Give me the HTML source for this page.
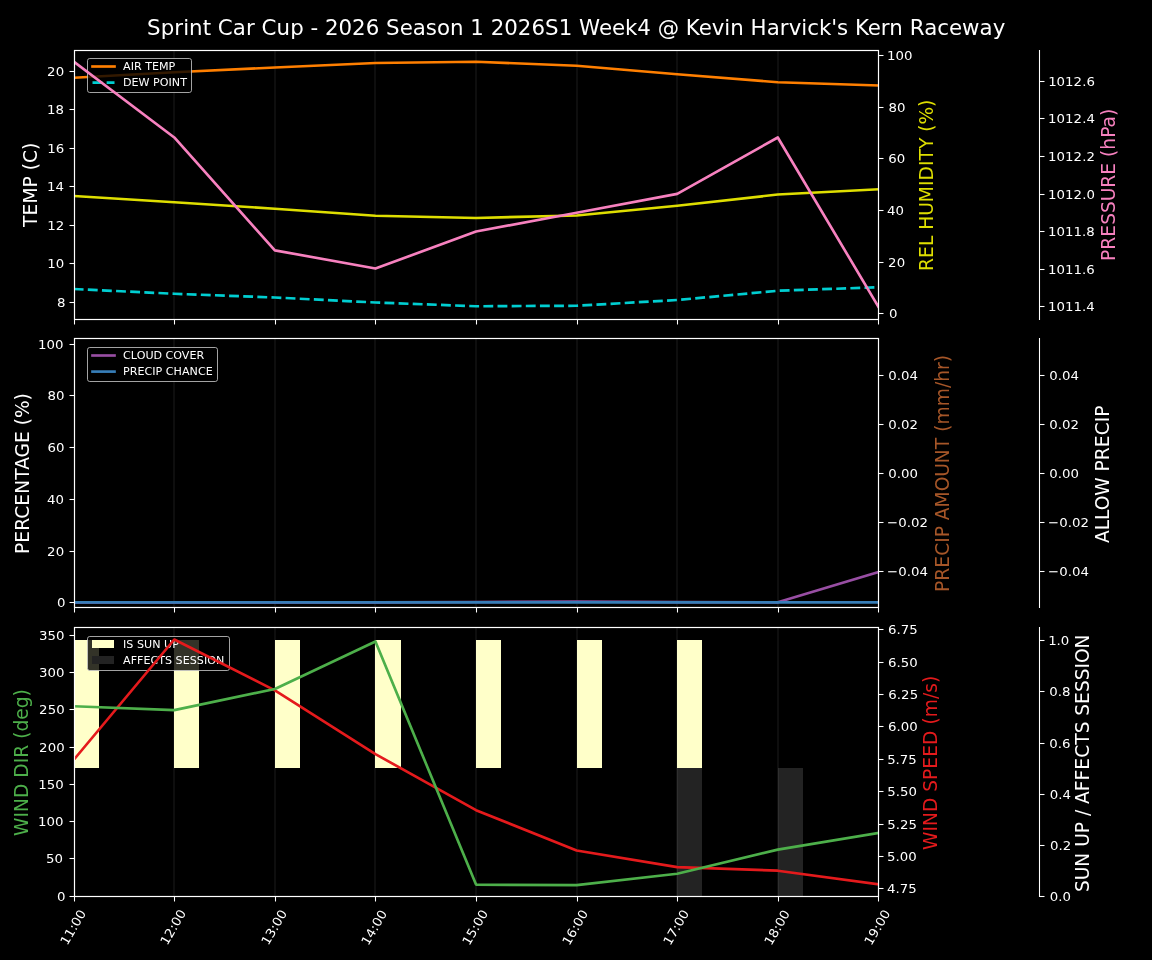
<!DOCTYPE html>
<html lang="en"><head><meta charset="utf-8"><title>Sprint Car Cup weather forecast</title>
<style>html,body{margin:0;padding:0;background:#000;overflow:hidden}svg{display:block}text{white-space:pre}</style>
</head><body>
<svg width="1152" height="960" viewBox="0 0 1152 960" font-family="'DejaVu Sans', 'Liberation Sans', sans-serif">
<rect width="1152" height="960" fill="#000"/>
<clipPath id="c0"><rect x="74.5" y="50.5" width="804.0" height="269.0"/></clipPath>
<clipPath id="c1"><rect x="74.5" y="338.5" width="804.0" height="269.0"/></clipPath>
<clipPath id="c2"><rect x="74.5" y="627.5" width="804.0" height="269.0"/></clipPath>
<text x="147.12 160.74 174.37 183.24 189.12 202.74 211.12 217.87 232.87 245.99 254.87 261.62 276.62 290.24 303.87 310.62 318.24 324.99 338.62 352.12 365.74 379.37 386.12 399.74 412.74 425.87 436.99 449.99 463.62 470.37 483.99 490.74 504.37 517.87 531.49 545.12 558.74 572.37 579.12 598.99 611.99 624.99 637.37 650.99 657.74 679.12 685.87 698.74 711.74 724.37 730.24 743.87 750.62 766.74 779.87 788.74 801.37 807.24 818.99 831.37 837.12 848.24 854.99 867.87 880.87 889.37 902.99 909.74 924.24 937.37 949.12 962.12 979.62 992.74" y="35.05" font-size="21.33" fill="#ffffff">Sprint Car Cup - 2026 Season 1 2026S1 Week4 @ Kevin Harvick&#39;s Kern Raceway</text>
<rect x="173" y="50.5" width="2" height="269.0" fill="#fff" fill-opacity="0.055"/>
<rect x="274" y="50.5" width="2" height="269.0" fill="#fff" fill-opacity="0.055"/>
<rect x="374" y="50.5" width="2" height="269.0" fill="#fff" fill-opacity="0.055"/>
<rect x="475" y="50.5" width="2" height="269.0" fill="#fff" fill-opacity="0.055"/>
<rect x="576" y="50.5" width="2" height="269.0" fill="#fff" fill-opacity="0.055"/>
<rect x="676" y="50.5" width="2" height="269.0" fill="#fff" fill-opacity="0.055"/>
<rect x="777" y="50.5" width="2" height="269.0" fill="#fff" fill-opacity="0.055"/>
<polyline points="73.69,77.75 174.28,72.25 274.86,67.5 375.44,63 476.03,61.75 576.62,65.75 677.2,74.25 777.79,82.25 878.37,85.5" fill="none" stroke="#ff7f00" stroke-width="2.67" stroke-linejoin="round" stroke-linecap="square" clip-path="url(#c0)"/>
<polyline points="73.69,289 174.28,293.75 274.86,297.5 375.44,302.5 476.03,306.25 576.62,305.75 677.2,300 777.79,290.75 878.37,287.25" fill="none" stroke="#00ced1" stroke-width="2.67" stroke-linejoin="round" stroke-linecap="butt" clip-path="url(#c0)" stroke-dasharray="9.87 4.27"/>
<rect x="87.5" y="58.5" width="104" height="34" rx="2.2" ry="2.2" fill="#000" fill-opacity="0.8" stroke="#cccccc" stroke-opacity="0.8" stroke-width="1"/>
<line x1="92.5" y1="66.5" x2="114.5" y2="66.5" stroke="#ff7f00" stroke-width="2.67" stroke-linecap="square"/>
<text x="123.06 130.69 133.94 141.69 145.19 151.94 158.94 168.56" y="70.32" font-size="11.11" fill="#ffffff">AIR TEMP</text>
<line x1="92.5" y1="82.6" x2="114.5" y2="82.6" stroke="#00ced1" stroke-width="2.67" stroke-dasharray="9.87 4.27"/>
<text x="123.04 131.54 138.54 149.54 153.04 159.79 168.54 171.79 180.17" y="85.86" font-size="11.11" fill="#ffffff">DEW POINT</text>
<polyline points="73.69,196 174.28,202.25 274.86,208.75 375.44,215.75 476.03,218 576.62,215.5 677.2,205.75 777.79,194.5 878.37,189.25" fill="none" stroke="#dede00" stroke-width="2.67" stroke-linejoin="round" stroke-linecap="square" clip-path="url(#c0)"/>
<polyline points="73.69,61.65 174.28,137.48 274.86,250.34 375.44,268.55 476.03,231.53 576.62,212.72 677.2,193.91 777.79,137.48 878.37,306.76" fill="none" stroke="#f781bf" stroke-width="2.67" stroke-linejoin="round" stroke-linecap="square" clip-path="url(#c0)"/>
<rect x="74.5" y="50.5" width="804.0" height="269.0" fill="none" stroke="#ffffff" stroke-width="1.19"/>
<line x1="1039.5" y1="50" x2="1039.5" y2="320" stroke="#ffffff" stroke-width="1.07"/>
<line x1="74.5" y1="319.5" x2="74.5" y2="324.5" stroke="#ffffff" stroke-width="1.07"/>
<line x1="174.5" y1="319.5" x2="174.5" y2="324.5" stroke="#ffffff" stroke-width="1.07"/>
<line x1="275.5" y1="319.5" x2="275.5" y2="324.5" stroke="#ffffff" stroke-width="1.07"/>
<line x1="375.5" y1="319.5" x2="375.5" y2="324.5" stroke="#ffffff" stroke-width="1.07"/>
<line x1="476.5" y1="319.5" x2="476.5" y2="324.5" stroke="#ffffff" stroke-width="1.07"/>
<line x1="577.5" y1="319.5" x2="577.5" y2="324.5" stroke="#ffffff" stroke-width="1.07"/>
<line x1="677.5" y1="319.5" x2="677.5" y2="324.5" stroke="#ffffff" stroke-width="1.07"/>
<line x1="778.5" y1="319.5" x2="778.5" y2="324.5" stroke="#ffffff" stroke-width="1.07"/>
<line x1="878.5" y1="319.5" x2="878.5" y2="324.5" stroke="#ffffff" stroke-width="1.07"/>
<line x1="69.5" y1="302.5" x2="74.5" y2="302.5" stroke="#ffffff" stroke-width="1.07"/>
<text transform="translate(65.44,307.31) scale(1,0.97)" x="-8.38" font-size="13.33" fill="#ffffff">8</text>
<line x1="69.5" y1="263.5" x2="74.5" y2="263.5" stroke="#ffffff" stroke-width="1.07"/>
<text transform="translate(64.15,268.35) scale(1,0.97)" x="-17 -8.5" font-size="13.33" fill="#ffffff">10</text>
<line x1="69.5" y1="225.5" x2="74.5" y2="225.5" stroke="#ffffff" stroke-width="1.07"/>
<text transform="translate(64.47,230.16) scale(1,0.97)" x="-17.12 -8.62" font-size="13.33" fill="#ffffff">12</text>
<line x1="69.5" y1="186.5" x2="74.5" y2="186.5" stroke="#ffffff" stroke-width="1.07"/>
<text transform="translate(63.81,191.21) scale(1,0.97)" x="-16.88 -8.38" font-size="13.33" fill="#ffffff">14</text>
<line x1="69.5" y1="148.5" x2="74.5" y2="148.5" stroke="#ffffff" stroke-width="1.07"/>
<text transform="translate(64.21,153.4) scale(1,0.97)" x="-17 -8.5" font-size="13.33" fill="#ffffff">16</text>
<line x1="69.5" y1="109.5" x2="74.5" y2="109.5" stroke="#ffffff" stroke-width="1.07"/>
<text transform="translate(63.8,114.28) scale(1,0.97)" x="-16.88 -8.38" font-size="13.33" fill="#ffffff">18</text>
<line x1="69.5" y1="71.5" x2="74.5" y2="71.5" stroke="#ffffff" stroke-width="1.07"/>
<text transform="translate(64.14,76.27) scale(1,0.97)" x="-17.12 -8.5" font-size="13.33" fill="#ffffff">20</text>
<text transform="translate(37.12,184.83) rotate(-90)" x="-42.06 -30.56 -18.69 -2.56 8.69 14.56 21.81 34.81" font-size="18.67" fill="#ffffff">TEMP (C)</text>
<line x1="878.5" y1="313.5" x2="883.5" y2="313.5" stroke="#ffffff" stroke-width="1.07"/>
<text transform="translate(889.05,318.44) scale(1,0.97)" x="0" font-size="13.33" fill="#ffffff">0</text>
<line x1="878.5" y1="262.5" x2="883.5" y2="262.5" stroke="#ffffff" stroke-width="1.07"/>
<text transform="translate(888.1,267.28) scale(1,0.97)" x="0 8.62" font-size="13.33" fill="#ffffff">20</text>
<line x1="878.5" y1="210.5" x2="883.5" y2="210.5" stroke="#ffffff" stroke-width="1.07"/>
<text transform="translate(887.02,214.79) scale(1,0.97)" x="0 8.38" font-size="13.33" fill="#ffffff">40</text>
<line x1="878.5" y1="158.5" x2="883.5" y2="158.5" stroke="#ffffff" stroke-width="1.07"/>
<text transform="translate(888.17,163.48) scale(1,0.97)" x="0 8.5" font-size="13.33" fill="#ffffff">60</text>
<line x1="878.5" y1="107.5" x2="883.5" y2="107.5" stroke="#ffffff" stroke-width="1.07"/>
<text transform="translate(888.57,112.36) scale(1,0.97)" x="0 8.38" font-size="13.33" fill="#ffffff">80</text>
<line x1="878.5" y1="55.5" x2="883.5" y2="55.5" stroke="#ffffff" stroke-width="1.07"/>
<text transform="translate(887.05,60.36) scale(1,0.97)" x="0 8.5 17" font-size="13.33" fill="#ffffff">100</text>
<text transform="translate(933.24,185.29) rotate(-90)" x="-85.62 -72.62 -60.75 -50.38 -44.5 -30.5 -16.88 -0.75 4.75 19.25 24.75 36.25 47.62 53.5 60.75 78.38" font-size="18.67" fill="#dede00">REL HUMIDITY (%)</text>
<line x1="1039.5" y1="306.5" x2="1044.5" y2="306.5" stroke="#ffffff" stroke-width="1.07"/>
<text transform="translate(1048.05,311.17) scale(1,0.97)" x="0 8.5 17 25.5 34 38.25" font-size="13.33" fill="#ffffff">1011.4</text>
<line x1="1039.5" y1="269.5" x2="1044.5" y2="269.5" stroke="#ffffff" stroke-width="1.07"/>
<text transform="translate(1048.1,274.23) scale(1,0.97)" x="0 8.5 17 25.5 34 38.25" font-size="13.33" fill="#ffffff">1011.6</text>
<line x1="1039.5" y1="231.5" x2="1044.5" y2="231.5" stroke="#ffffff" stroke-width="1.07"/>
<text transform="translate(1048.06,236.24) scale(1,0.97)" x="0 8.5 17 25.5 34 38.25" font-size="13.33" fill="#ffffff">1011.8</text>
<line x1="1039.5" y1="194.5" x2="1044.5" y2="194.5" stroke="#ffffff" stroke-width="1.07"/>
<text transform="translate(1048.08,199.14) scale(1,0.97)" x="0 8.5 17 25.5 34.12 38.38" font-size="13.33" fill="#ffffff">1012.0</text>
<line x1="1039.5" y1="156.5" x2="1044.5" y2="156.5" stroke="#ffffff" stroke-width="1.07"/>
<text transform="translate(1048.04,161.11) scale(1,0.97)" x="0 8.5 17 25.5 34.12 38.38" font-size="13.33" fill="#ffffff">1012.2</text>
<line x1="1039.5" y1="118.5" x2="1044.5" y2="118.5" stroke="#ffffff" stroke-width="1.07"/>
<text transform="translate(1048.02,123.21) scale(1,0.97)" x="0 8.5 17 25.5 34.12 38.38" font-size="13.33" fill="#ffffff">1012.4</text>
<line x1="1039.5" y1="81.5" x2="1044.5" y2="81.5" stroke="#ffffff" stroke-width="1.07"/>
<text transform="translate(1048.13,86.21) scale(1,0.97)" x="0 8.5 17 25.5 34.12 38.38" font-size="13.33" fill="#ffffff">1012.6</text>
<text transform="translate(1114.82,184.79) rotate(-90)" x="-76.12 -64.88 -51.88 -40 -28.25 -16.5 -2.88 10.12 22 27.88 35.12 47 57.38 68.88" font-size="18.67" fill="#f781bf">PRESSURE (hPa)</text>
<rect x="173" y="338.5" width="2" height="269.0" fill="#fff" fill-opacity="0.055"/>
<rect x="274" y="338.5" width="2" height="269.0" fill="#fff" fill-opacity="0.055"/>
<rect x="374" y="338.5" width="2" height="269.0" fill="#fff" fill-opacity="0.055"/>
<rect x="475" y="338.5" width="2" height="269.0" fill="#fff" fill-opacity="0.055"/>
<rect x="576" y="338.5" width="2" height="269.0" fill="#fff" fill-opacity="0.055"/>
<rect x="676" y="338.5" width="2" height="269.0" fill="#fff" fill-opacity="0.055"/>
<rect x="777" y="338.5" width="2" height="269.0" fill="#fff" fill-opacity="0.055"/>
<polyline points="73.69,602.29 174.28,602.29 274.86,602.29 375.44,602.29 476.03,602.03 576.62,601.51 677.2,602.16 777.79,602.29 878.37,572.16" fill="none" stroke="#984ea3" stroke-width="2.67" stroke-linejoin="round" stroke-linecap="square" clip-path="url(#c1)"/>
<polyline points="73.69,602.29 174.28,602.29 274.86,602.29 375.44,602.29 476.03,602.29 576.62,602.29 677.2,602.29 777.79,602.29 878.37,602.29" fill="none" stroke="#377eb8" stroke-width="2.67" stroke-linejoin="round" stroke-linecap="square" clip-path="url(#c1)"/>
<rect x="87.5" y="347.5" width="130" height="34" rx="2.2" ry="2.2" fill="#000" fill-opacity="0.8" stroke="#cccccc" stroke-opacity="0.8" stroke-width="1"/>
<line x1="92.5" y1="355.5" x2="114.5" y2="355.5" stroke="#984ea3" stroke-width="2.67" stroke-linecap="square"/>
<text x="123.06 130.81 136.69 145.44 153.56 162.06 165.56 173.31 181.81 189.44 196.44" y="359.32" font-size="11.11" fill="#ffffff">CLOUD COVER</text>
<line x1="92.5" y1="371.6" x2="114.5" y2="371.6" stroke="#377eb8" stroke-width="2.67" stroke-linecap="square"/>
<text x="123.04 129.79 137.54 144.54 152.29 155.54 162.29 165.79 173.54 181.92 189.54 197.92 205.67" y="374.86" font-size="11.11" fill="#ffffff">PRECIP CHANCE</text>
<rect x="74.5" y="338.5" width="804.0" height="269.0" fill="none" stroke="#ffffff" stroke-width="1.19"/>
<line x1="1039.5" y1="338" x2="1039.5" y2="608" stroke="#ffffff" stroke-width="1.07"/>
<line x1="74.5" y1="607.5" x2="74.5" y2="612.5" stroke="#ffffff" stroke-width="1.07"/>
<line x1="174.5" y1="607.5" x2="174.5" y2="612.5" stroke="#ffffff" stroke-width="1.07"/>
<line x1="275.5" y1="607.5" x2="275.5" y2="612.5" stroke="#ffffff" stroke-width="1.07"/>
<line x1="375.5" y1="607.5" x2="375.5" y2="612.5" stroke="#ffffff" stroke-width="1.07"/>
<line x1="476.5" y1="607.5" x2="476.5" y2="612.5" stroke="#ffffff" stroke-width="1.07"/>
<line x1="577.5" y1="607.5" x2="577.5" y2="612.5" stroke="#ffffff" stroke-width="1.07"/>
<line x1="677.5" y1="607.5" x2="677.5" y2="612.5" stroke="#ffffff" stroke-width="1.07"/>
<line x1="778.5" y1="607.5" x2="778.5" y2="612.5" stroke="#ffffff" stroke-width="1.07"/>
<line x1="878.5" y1="607.5" x2="878.5" y2="612.5" stroke="#ffffff" stroke-width="1.07"/>
<line x1="69.5" y1="602.5" x2="74.5" y2="602.5" stroke="#ffffff" stroke-width="1.07"/>
<text transform="translate(65.55,607.44) scale(1,0.97)" x="-8.5" font-size="13.33" fill="#ffffff">0</text>
<line x1="69.5" y1="551.5" x2="74.5" y2="551.5" stroke="#ffffff" stroke-width="1.07"/>
<text transform="translate(64.14,556.27) scale(1,0.97)" x="-17.12 -8.5" font-size="13.33" fill="#ffffff">20</text>
<line x1="69.5" y1="499.5" x2="74.5" y2="499.5" stroke="#ffffff" stroke-width="1.07"/>
<text transform="translate(63.92,503.79) scale(1,0.97)" x="-16.88 -8.5" font-size="13.33" fill="#ffffff">40</text>
<line x1="69.5" y1="447.5" x2="74.5" y2="447.5" stroke="#ffffff" stroke-width="1.07"/>
<text transform="translate(64.42,452.48) scale(1,0.97)" x="-17 -8.5" font-size="13.33" fill="#ffffff">60</text>
<line x1="69.5" y1="395.5" x2="74.5" y2="395.5" stroke="#ffffff" stroke-width="1.07"/>
<text transform="translate(64.47,400.36) scale(1,0.97)" x="-16.88 -8.5" font-size="13.33" fill="#ffffff">80</text>
<line x1="69.5" y1="344.5" x2="74.5" y2="344.5" stroke="#ffffff" stroke-width="1.07"/>
<text transform="translate(63.52,349.36) scale(1,0.97)" x="-25.5 -17 -8.5" font-size="13.33" fill="#ffffff">100</text>
<text transform="translate(29.05,473.6) rotate(-90)" x="-80.38 -69.12 -57.25 -45.12 -32.12 -20.25 -6.25 3.75 16.12 30.5 42.38 48.25 55.5 73.12" font-size="18.67" fill="#ffffff">PERCENTAGE (%)</text>
<line x1="878.5" y1="571.5" x2="883.5" y2="571.5" stroke="#ffffff" stroke-width="1.07"/>
<text transform="translate(886.96,575.84) scale(1,0.97)" x="0 11.25 19.75 24 32.5" font-size="13.33" fill="#ffffff">−0.04</text>
<line x1="878.5" y1="522.5" x2="883.5" y2="522.5" stroke="#ffffff" stroke-width="1.07"/>
<text transform="translate(887.07,526.8) scale(1,0.97)" x="0 11.25 19.75 24 32.5" font-size="13.33" fill="#ffffff">−0.02</text>
<line x1="878.5" y1="473.5" x2="883.5" y2="473.5" stroke="#ffffff" stroke-width="1.07"/>
<text transform="translate(888.15,478.28) scale(1,0.97)" x="0 8.5 12.75 21.25" font-size="13.33" fill="#ffffff">0.00</text>
<line x1="878.5" y1="424.5" x2="883.5" y2="424.5" stroke="#ffffff" stroke-width="1.07"/>
<text transform="translate(888.16,429.16) scale(1,0.97)" x="0 8.5 12.75 21.25" font-size="13.33" fill="#ffffff">0.02</text>
<line x1="878.5" y1="375.5" x2="883.5" y2="375.5" stroke="#ffffff" stroke-width="1.07"/>
<text transform="translate(888.15,380.2) scale(1,0.97)" x="0 8.5 12.75 21.25" font-size="13.33" fill="#ffffff">0.04</text>
<text transform="translate(949.08,473.45) rotate(-90)" x="-118.5 -107.25 -94.25 -82.38 -69.38 -63.88 -52.62 -46.75 -34 -17.88 -3.38 10.25 24.25 35.75 41.62 48.88 67.12 85.38 91.62 103.5 111.25" font-size="18.67" fill="#a65628">PRECIP AMOUNT (mm/hr)</text>
<line x1="1039.5" y1="571.5" x2="1044.5" y2="571.5" stroke="#ffffff" stroke-width="1.07"/>
<text transform="translate(1047.96,575.84) scale(1,0.97)" x="0 11.25 19.75 24 32.5" font-size="13.33" fill="#ffffff">−0.04</text>
<line x1="1039.5" y1="522.5" x2="1044.5" y2="522.5" stroke="#ffffff" stroke-width="1.07"/>
<text transform="translate(1048.07,526.8) scale(1,0.97)" x="0 11.25 19.75 24 32.5" font-size="13.33" fill="#ffffff">−0.02</text>
<line x1="1039.5" y1="473.5" x2="1044.5" y2="473.5" stroke="#ffffff" stroke-width="1.07"/>
<text transform="translate(1049.15,478.28) scale(1,0.97)" x="0 8.5 12.75 21.25" font-size="13.33" fill="#ffffff">0.00</text>
<line x1="1039.5" y1="424.5" x2="1044.5" y2="424.5" stroke="#ffffff" stroke-width="1.07"/>
<text transform="translate(1049.16,429.16) scale(1,0.97)" x="0 8.5 12.75 21.25" font-size="13.33" fill="#ffffff">0.02</text>
<line x1="1039.5" y1="375.5" x2="1044.5" y2="375.5" stroke="#ffffff" stroke-width="1.07"/>
<text transform="translate(1049.15,380.2) scale(1,0.97)" x="0 8.5 12.75 21.25" font-size="13.33" fill="#ffffff">0.04</text>
<text transform="translate(1109.24,474.36) rotate(-90)" x="-68.75 -56 -45.62 -35.88 -21.38 -3 2.88 14.12 27.12 39 52 57.5" font-size="18.67" fill="#ffffff">ALLOW PRECIP</text>
<rect x="74" y="640" width="25" height="128" fill="#ffffc9" clip-path="url(#c2)"/>
<rect x="174" y="640" width="25" height="128" fill="#ffffc9" clip-path="url(#c2)"/>
<rect x="275" y="640" width="25" height="128" fill="#ffffc9" clip-path="url(#c2)"/>
<rect x="375" y="640" width="26" height="128" fill="#ffffc9" clip-path="url(#c2)"/>
<rect x="476" y="640" width="25" height="128" fill="#ffffc9" clip-path="url(#c2)"/>
<rect x="577" y="640" width="25" height="128" fill="#ffffc9" clip-path="url(#c2)"/>
<rect x="677" y="640" width="25" height="128" fill="#ffffc9" clip-path="url(#c2)"/>
<rect x="677" y="768" width="25" height="129" fill="#232323" clip-path="url(#c2)"/>
<rect x="778" y="768" width="25" height="129" fill="#232323" clip-path="url(#c2)"/>
<rect x="173" y="627.5" width="2" height="269.0" fill="#fff" fill-opacity="0.055"/>
<rect x="274" y="627.5" width="2" height="269.0" fill="#fff" fill-opacity="0.055"/>
<rect x="374" y="627.5" width="2" height="269.0" fill="#fff" fill-opacity="0.055"/>
<rect x="475" y="627.5" width="2" height="269.0" fill="#fff" fill-opacity="0.055"/>
<rect x="576" y="627.5" width="2" height="269.0" fill="#fff" fill-opacity="0.055"/>
<rect x="676" y="627.5" width="2" height="269.0" fill="#fff" fill-opacity="0.055"/>
<rect x="777" y="627.5" width="2" height="269.0" fill="#fff" fill-opacity="0.055"/>
<rect x="87.5" y="636.5" width="142" height="34" rx="2.2" ry="2.2" fill="#000" fill-opacity="0.8" stroke="#cccccc" stroke-opacity="0.8" stroke-width="1"/>
<rect x="92" y="640" width="22" height="8" fill="#ffffc9"/>
<text x="123.06 126.31 133.44 136.94 144.06 152.19 160.56 164.06 172.19" y="648.32" font-size="11.11" fill="#ffffff">IS SUN UP</text>
<rect x="92" y="656" width="22" height="8" fill="#232323"/>
<text x="123.04 130.67 137.04 143.42 150.42 158.17 164.92 172.04 175.54 182.67 189.67 196.79 203.92 207.17 215.92" y="663.86" font-size="11.11" fill="#ffffff">AFFECTS SESSION</text>
<polyline points="73.69,759.9 174.28,639.5 274.86,690.4 375.44,754.1 476.03,810.15 576.62,850.45 677.2,867.1 777.79,870.7 878.37,884.3" fill="none" stroke="#e41a1c" stroke-width="2.67" stroke-linejoin="round" stroke-linecap="square" clip-path="url(#c2)"/>
<polyline points="73.69,706.25 174.28,710.15 274.86,689 375.44,641.5 476.03,884.6 576.62,885.2 677.2,873.75 777.79,849.6 878.37,833" fill="none" stroke="#4daf4a" stroke-width="2.67" stroke-linejoin="round" stroke-linecap="square" clip-path="url(#c2)"/>
<rect x="74.5" y="627.5" width="804.0" height="269.0" fill="none" stroke="#ffffff" stroke-width="1.19"/>
<line x1="1039.5" y1="627" x2="1039.5" y2="897" stroke="#ffffff" stroke-width="1.07"/>
<line x1="74.5" y1="896.5" x2="74.5" y2="901.5" stroke="#ffffff" stroke-width="1.07"/>
<line x1="174.5" y1="896.5" x2="174.5" y2="901.5" stroke="#ffffff" stroke-width="1.07"/>
<line x1="275.5" y1="896.5" x2="275.5" y2="901.5" stroke="#ffffff" stroke-width="1.07"/>
<line x1="375.5" y1="896.5" x2="375.5" y2="901.5" stroke="#ffffff" stroke-width="1.07"/>
<line x1="476.5" y1="896.5" x2="476.5" y2="901.5" stroke="#ffffff" stroke-width="1.07"/>
<line x1="577.5" y1="896.5" x2="577.5" y2="901.5" stroke="#ffffff" stroke-width="1.07"/>
<line x1="677.5" y1="896.5" x2="677.5" y2="901.5" stroke="#ffffff" stroke-width="1.07"/>
<line x1="778.5" y1="896.5" x2="778.5" y2="901.5" stroke="#ffffff" stroke-width="1.07"/>
<line x1="878.5" y1="896.5" x2="878.5" y2="901.5" stroke="#ffffff" stroke-width="1.07"/>
<line x1="69.5" y1="896.5" x2="74.5" y2="896.5" stroke="#ffffff" stroke-width="1.07"/>
<text transform="translate(65.55,901.44) scale(1,0.97)" x="-8.5" font-size="13.33" fill="#ffffff">0</text>
<line x1="69.5" y1="858.5" x2="74.5" y2="858.5" stroke="#ffffff" stroke-width="1.07"/>
<text transform="translate(62.97,863.12) scale(1,0.97)" x="-17 -8.5" font-size="13.33" fill="#ffffff">50</text>
<line x1="69.5" y1="821.5" x2="74.5" y2="821.5" stroke="#ffffff" stroke-width="1.07"/>
<text transform="translate(63.52,826.36) scale(1,0.97)" x="-25.5 -17 -8.5" font-size="13.33" fill="#ffffff">100</text>
<line x1="69.5" y1="784.5" x2="74.5" y2="784.5" stroke="#ffffff" stroke-width="1.07"/>
<text transform="translate(63.65,789.16) scale(1,0.97)" x="-25.5 -17 -8.5" font-size="13.33" fill="#ffffff">150</text>
<line x1="69.5" y1="747.5" x2="74.5" y2="747.5" stroke="#ffffff" stroke-width="1.07"/>
<text transform="translate(64.64,752.32) scale(1,0.97)" x="-25.62 -17 -8.5" font-size="13.33" fill="#ffffff">200</text>
<line x1="69.5" y1="709.5" x2="74.5" y2="709.5" stroke="#ffffff" stroke-width="1.07"/>
<text transform="translate(64.68,714.1) scale(1,0.97)" x="-25.62 -17 -8.5" font-size="13.33" fill="#ffffff">250</text>
<line x1="69.5" y1="672.5" x2="74.5" y2="672.5" stroke="#ffffff" stroke-width="1.07"/>
<text transform="translate(64.48,677.32) scale(1,0.97)" x="-25.5 -17 -8.5" font-size="13.33" fill="#ffffff">300</text>
<line x1="69.5" y1="635.5" x2="74.5" y2="635.5" stroke="#ffffff" stroke-width="1.07"/>
<text transform="translate(64.48,640.12) scale(1,0.97)" x="-25.5 -17 -8.5" font-size="13.33" fill="#ffffff">350</text>
<text transform="translate(27.98,762.54) rotate(-90)" x="-73.38 -55 -49.5 -35.5 -21 -15.12 -0.62 4.88 17.88 23.75 31 42.88 54.25 66.12" font-size="18.67" fill="#4daf4a">WIND DIR (deg)</text>
<line x1="878.5" y1="888.5" x2="883.5" y2="888.5" stroke="#ffffff" stroke-width="1.07"/>
<text transform="translate(887.11,892.81) scale(1,0.97)" x="0 8.38 12.62 21.12" font-size="13.33" fill="#ffffff">4.75</text>
<line x1="878.5" y1="856.5" x2="883.5" y2="856.5" stroke="#ffffff" stroke-width="1.07"/>
<text transform="translate(887.09,861.12) scale(1,0.97)" x="0 8.5 12.75 21.25" font-size="13.33" fill="#ffffff">5.00</text>
<line x1="878.5" y1="824.5" x2="883.5" y2="824.5" stroke="#ffffff" stroke-width="1.07"/>
<text transform="translate(887.24,828.93) scale(1,0.97)" x="0 8.5 12.75 21.38" font-size="13.33" fill="#ffffff">5.25</text>
<line x1="878.5" y1="791.5" x2="883.5" y2="791.5" stroke="#ffffff" stroke-width="1.07"/>
<text transform="translate(887.15,795.63) scale(1,0.97)" x="0 8.5 12.75 21.25" font-size="13.33" fill="#ffffff">5.50</text>
<line x1="878.5" y1="759.5" x2="883.5" y2="759.5" stroke="#ffffff" stroke-width="1.07"/>
<text transform="translate(887.13,763.78) scale(1,0.97)" x="0 8.5 12.75 21.25" font-size="13.33" fill="#ffffff">5.75</text>
<line x1="878.5" y1="726.5" x2="883.5" y2="726.5" stroke="#ffffff" stroke-width="1.07"/>
<text transform="translate(888.12,731.4) scale(1,0.97)" x="0 8.5 12.75 21.25" font-size="13.33" fill="#ffffff">6.00</text>
<line x1="878.5" y1="694.5" x2="883.5" y2="694.5" stroke="#ffffff" stroke-width="1.07"/>
<text transform="translate(888.29,699) scale(1,0.97)" x="0 8.5 12.75 21.38" font-size="13.33" fill="#ffffff">6.25</text>
<line x1="878.5" y1="662.5" x2="883.5" y2="662.5" stroke="#ffffff" stroke-width="1.07"/>
<text transform="translate(888.1,667.11) scale(1,0.97)" x="0 8.5 12.75 21.25" font-size="13.33" fill="#ffffff">6.50</text>
<line x1="878.5" y1="629.5" x2="883.5" y2="629.5" stroke="#ffffff" stroke-width="1.07"/>
<text transform="translate(888.11,633.93) scale(1,0.97)" x="0 8.5 12.75 21.25" font-size="13.33" fill="#ffffff">6.75</text>
<text transform="translate(937.04,762.9) rotate(-90)" x="-87.06 -68.69 -63.19 -49.19 -34.69 -28.81 -17.06 -5.81 6.06 17.94 32.44 38.31 45.56 63.81 70.06 79.81" font-size="18.67" fill="#e41a1c">WIND SPEED (m/s)</text>
<line x1="1039.5" y1="896.5" x2="1044.5" y2="896.5" stroke="#ffffff" stroke-width="1.07"/>
<text transform="translate(1049.72,900.52) scale(1,0.97)" x="0 8.5 12.75" font-size="13.33" fill="#ffffff">0.0</text>
<line x1="1039.5" y1="845.5" x2="1044.5" y2="845.5" stroke="#ffffff" stroke-width="1.07"/>
<text transform="translate(1049.89,849.94) scale(1,0.97)" x="0 8.5 12.75" font-size="13.33" fill="#ffffff">0.2</text>
<line x1="1039.5" y1="794.5" x2="1044.5" y2="794.5" stroke="#ffffff" stroke-width="1.07"/>
<text transform="translate(1049.83,799.14) scale(1,0.97)" x="0 8.5 12.75" font-size="13.33" fill="#ffffff">0.4</text>
<line x1="1039.5" y1="743.5" x2="1044.5" y2="743.5" stroke="#ffffff" stroke-width="1.07"/>
<text transform="translate(1049.17,748.17) scale(1,0.97)" x="0 8.5 12.75" font-size="13.33" fill="#ffffff">0.6</text>
<line x1="1039.5" y1="691.5" x2="1044.5" y2="691.5" stroke="#ffffff" stroke-width="1.07"/>
<text transform="translate(1049.14,696.05) scale(1,0.97)" x="0 8.5 12.75" font-size="13.33" fill="#ffffff">0.8</text>
<line x1="1039.5" y1="640.5" x2="1044.5" y2="640.5" stroke="#ffffff" stroke-width="1.07"/>
<text transform="translate(1048.13,645.12) scale(1,0.97)" x="0 8.5 12.75" font-size="13.33" fill="#ffffff">1.0</text>
<text transform="translate(1089.29,763.27) rotate(-90)" x="-128.75 -117 -103.38 -89.38 -83.5 -69.88 -58.62 -52.75 -46.5 -40.62 -27.88 -17.12 -6.38 5.5 18.5 30 41.75 47.62 59.38 71.25 83 94.75 100.25 114.75" font-size="18.67" fill="#ffffff">SUN UP / AFFECTS SESSION</text>
<text transform="translate(72.6,927) rotate(-60) scale(1,0.94)" x="-19.25 -10.75 -2.25 2.25 10.75" y="5.16" font-size="13.33" fill="#ffffff">11:00</text>
<text transform="translate(172.76,926.92) rotate(-60) scale(1,0.94)" x="-19.31 -10.81 -2.19 2.31 10.81" y="5.16" font-size="13.33" fill="#ffffff">12:00</text>
<text transform="translate(273.68,927.02) rotate(-60) scale(1,0.94)" x="-19.25 -10.75 -2.25 2.25 10.75" y="5.16" font-size="13.33" fill="#ffffff">13:00</text>
<text transform="translate(373.66,927.24) rotate(-60) scale(1,0.94)" x="-19.19 -10.69 -2.31 2.19 10.69" y="5.16" font-size="13.33" fill="#ffffff">14:00</text>
<text transform="translate(474.59,927.09) rotate(-60) scale(1,0.94)" x="-19.25 -10.75 -2.25 2.25 10.75" y="5.16" font-size="13.33" fill="#ffffff">15:00</text>
<text transform="translate(574.63,927.16) rotate(-60) scale(1,0.94)" x="-19.25 -10.75 -2.25 2.25 10.75" y="5.16" font-size="13.33" fill="#ffffff">16:00</text>
<text transform="translate(675.72,927.1) rotate(-60) scale(1,0.94)" x="-19.25 -10.75 -2.25 2.25 10.75" y="5.16" font-size="13.33" fill="#ffffff">17:00</text>
<text transform="translate(776.58,927.22) rotate(-60) scale(1,0.94)" x="-19.19 -10.69 -2.31 2.19 10.69" y="5.16" font-size="13.33" fill="#ffffff">18:00</text>
<text transform="translate(876.81,927.06) rotate(-60) scale(1,0.94)" x="-19.31 -10.81 -2.19 2.31 10.81" y="5.16" font-size="13.33" fill="#ffffff">19:00</text>
</svg>
</body></html>
